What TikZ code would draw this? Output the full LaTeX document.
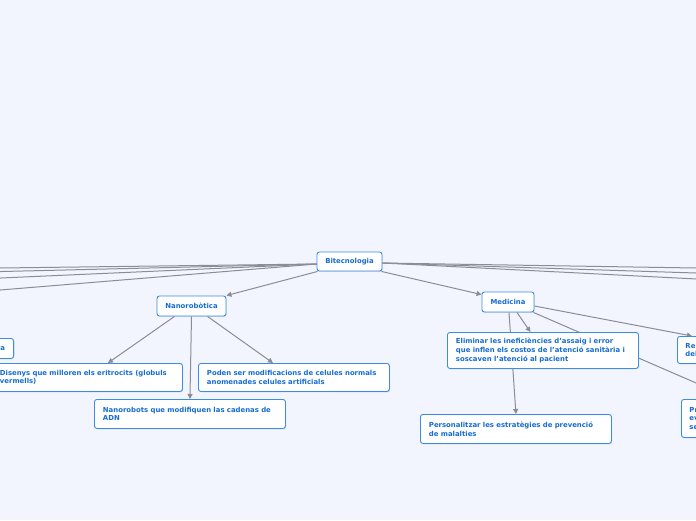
\documentclass[tikz,border=0pt]{standalone}
\usepackage{fontspec}
\setmainfont{DejaVu Sans}
\usetikzlibrary{arrows.meta,shadows}
\definecolor{bgc}{RGB}{242,245,254}
\definecolor{bord}{RGB}{58,140,230}
\definecolor{txt}{RGB}{22,108,210}
\definecolor{edgec}{RGB}{140,140,150}
\pgfdeclarelayer{back}
\pgfdeclarelayer{bg}
\pgfsetlayers{back,bg,main}
\tikzset{
 box/.style={draw=bord, line width=0.9pt, fill=white, rounded corners=2.5pt,
   font=\fontsize{6.9}{8.7}\selectfont\bfseries, text=txt,
   drop shadow={shadow xshift=0.7pt,shadow yshift=-0.9pt,opacity=0.22}},
 topic/.style={box, inner xsep=0pt, inner ysep=0pt},
 leaf/.style={box, anchor=north west, text width=174pt, inner xsep=8.5pt, inner ysep=0pt, align=left},
 conn/.style={draw=edgec, line width=1pt},
 arr/.style={conn, -{Triangle[length=5pt,width=5pt]}},
}
\begin{document}
\begin{tikzpicture}[x=1pt,y=-1pt]
\useasboundingbox (0,0) rectangle (696,520);
\begin{pgfonlayer}{back}
\fill[bgc] (0,0) rectangle (696,520);
\end{pgfonlayer}
% topics
\node[topic, minimum width=65pt, minimum height=19pt] (bit) at (349.5,261.5) {Bitecnologia};
\node[topic, minimum width=69pt, minimum height=20pt] (nano) at (191.5,306) {Nanorobòtica};
\node[topic, minimum width=52pt, minimum height=20pt] (med) at (508,302) {Medicina};
% leaves
\node[leaf, anchor=north east, align=right, minimum height=20pt] (ra) at (14,338) {ra};
\node[leaf, minimum height=28pt] (dis) at (-9,363) {Disenys que milloren els eritrocits (globuls\\vermells)};
\node[leaf, minimum height=28pt] (pod) at (198,363) {Poden ser modificacions de celules normals\\anomenades celules artificials};
\node[leaf, minimum height=29pt] (nrb) at (94,399) {Nanorobots que modifiquen las cadenas de\\ADN};
\node[leaf, minimum height=36pt] (eli) at (447,332) {Eliminar les ineficiències d'assaig i error\\que inflen els costos de l'atenció sanitària i\\soscaven l'atenció al pacient};
\node[leaf, minimum height=29pt] (per) at (420,414) {Personalitzar les estratègies de prevenció\\de malalties};
\node[leaf, minimum height=27pt, inner xsep=8pt] (re) at (677,336) {Re\\del};
\node[leaf, minimum height=38pt, inner xsep=8pt] (pr) at (681,399) {Pr\\ev\\se};
% off-canvas ends
\coordinate (l1) at (-40,268.5);
\coordinate (l2) at (-40,272.5);
\coordinate (l3) at (-40,279.8);
\coordinate (l4) at (-40,293.3);
\coordinate (r1) at (740,268.7);
\coordinate (r2) at (740,274.4);
\coordinate (r3) at (740,281.2);
\begin{pgfonlayer}{bg}
\draw[conn] ([yshift=-2.5pt]bit.west) -- (l1);
\draw[conn] ([yshift=-2.5pt]bit.west) -- (l2);
\draw[conn] ([yshift=-2.5pt]bit.west) -- (l3);
\draw[conn] ([yshift=-2.5pt]bit.west) -- (l4);
\draw[conn] ([yshift=-1.5pt]bit.east) -- (r1);
\draw[conn] ([yshift=-1.5pt]bit.east) -- (r2);
\draw[conn] ([yshift=-1.5pt]bit.east) -- (r3);
\draw[arr] ([xshift=1pt]bit.south west) -- (nano.north east);
\draw[arr] ([xshift=-1pt]bit.south east) -- ([yshift=-3pt]med.north west);
\draw[arr] ([xshift=-17pt]nano.south) -- ([xshift=21pt]dis.north);
\draw[arr] (nano.south) -- (nrb.north);
\draw[arr] ([xshift=16pt]nano.south) -- ([xshift=-21pt]pod.north);
\draw[arr] ([xshift=9pt]med.south) -- ([xshift=-12.5pt]eli.north);
\draw[arr] ([xshift=1pt]med.south) -- (per.north);
\draw[arr] ([yshift=-4pt]med.east) -- ([xshift=15pt]re.north west);
\draw[arr] ([xshift=-1pt]med.south east) -- ([xshift=52pt]pr.north west);
\end{pgfonlayer}
\end{tikzpicture}
\end{document}
